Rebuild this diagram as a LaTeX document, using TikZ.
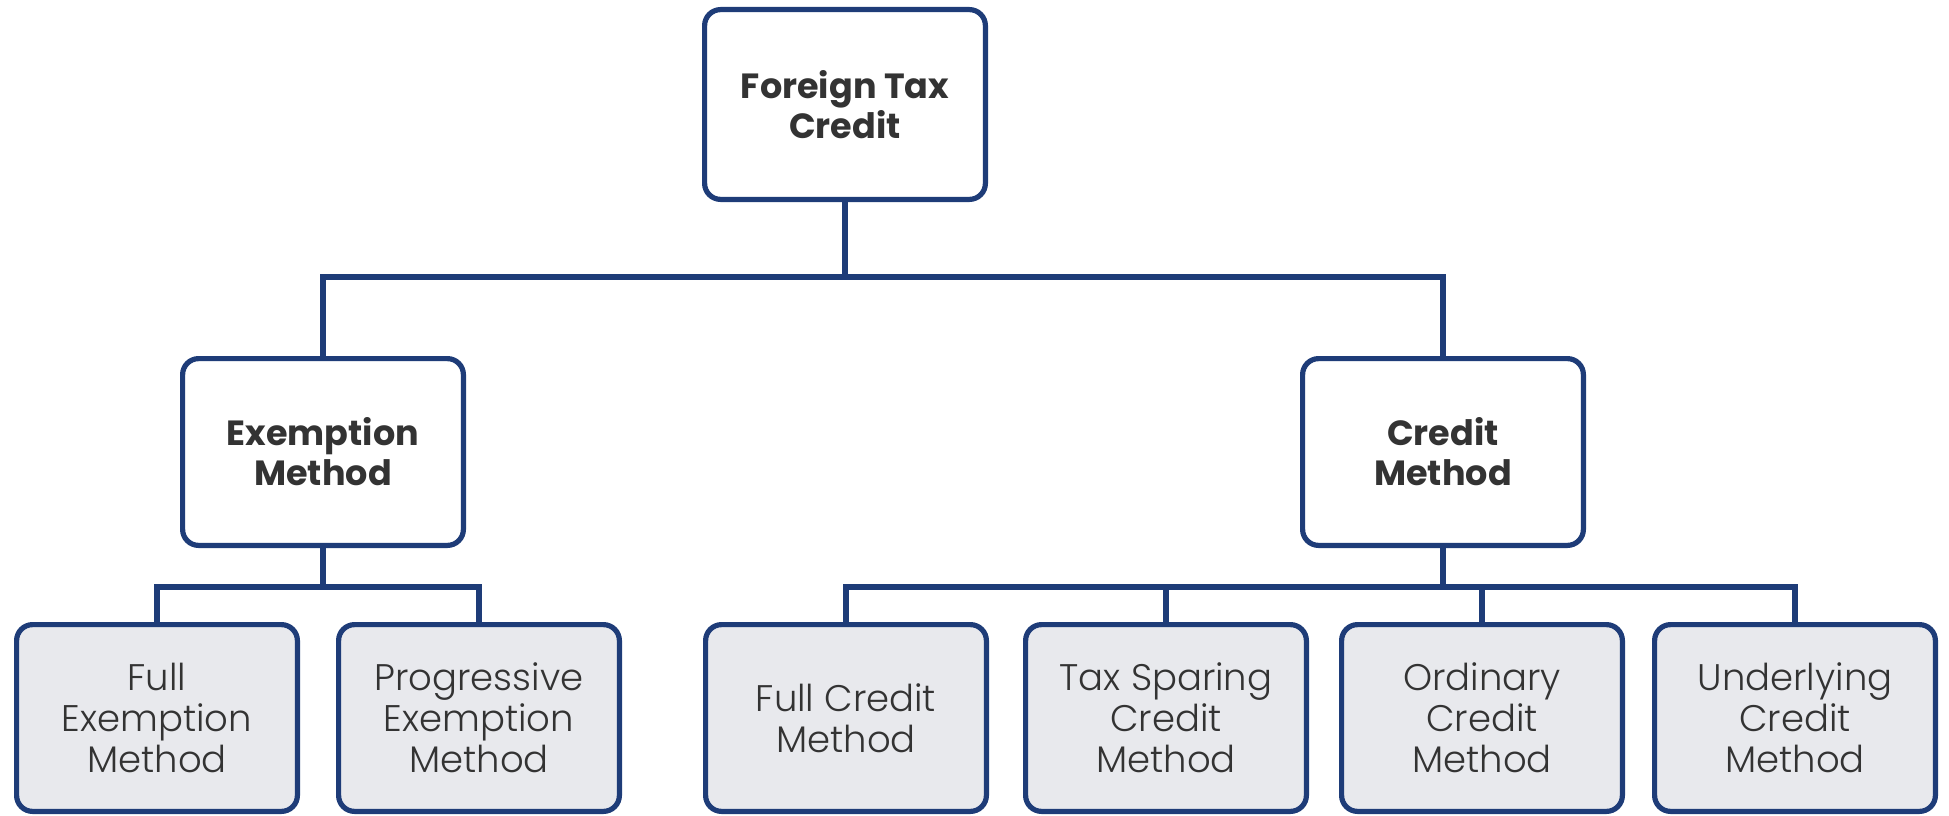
\documentclass[tikz,border=0pt]{standalone}
\usepackage{fontspec}
\setmainfont{Poppins}
\newfontfamily\lightfont{Poppins Light}
\definecolor{navy}{RGB}{30,60,120}
\definecolor{boxgray}{RGB}{232,233,237}
\definecolor{txt}{RGB}{51,51,51}
\tikzset{
  basebox/.style={draw=navy, line width=5.2pt, rounded corners=16pt,
    minimum width=280.8pt, minimum height=186.8pt, align=center,
    text=txt, inner sep=0pt},
  headbox/.style={basebox, fill=white, font=\fontsize{35}{40}\selectfont\bfseries},
  leafbox/.style={basebox, fill=boxgray, font=\lightfont\fontsize{37}{41}\selectfont},
  conn/.style={draw=navy, line width=5.2pt}
}
\begin{document}
\begin{tikzpicture}[x=1pt,y=-1pt]
\useasboundingbox (0,0) rectangle (1949,816);
\node[headbox, minimum height=189.8pt] (top) at (845,104.5) {Foreign Tax\\Credit};
\node[headbox] (ex) at (323,452) {Exemption\\Method};
\node[headbox] (cr) at (1443,452) {Credit\\Method};
\node[leafbox] (fe) at (157,718) {Full\\Exemption\\Method};
\node[leafbox] (pe) at (479,718) {Progressive\\Exemption\\Method};
\node[leafbox] (fc) at (846,718) {Full Credit\\Method};
\node[leafbox] (ts) at (1166,718) {Tax Sparing\\Credit\\Method};
\node[leafbox] (oc) at (1482,718) {Ordinary\\Credit\\Method};
\node[leafbox] (uc) at (1795,718) {Underlying\\Credit\\Method};
\coordinate (b1) at (845,277);
\coordinate (b2) at (323,587);
\coordinate (b3) at (1443,587);
\draw[conn] (top.south) -- (b1);
\draw[conn] (ex.north) |- (b1) -| (cr.north);
\draw[conn] (ex.south) -- (b2);
\draw[conn] (fe.north) |- (b2) -| (pe.north);
\draw[conn] (cr.south) -- (b3);
\draw[conn] (fc.north) |- (b3) -| (uc.north);
\draw[conn] (ts.north) -- (ts.north |- b3);
\draw[conn] (oc.north) -- (oc.north |- b3);
\end{tikzpicture}
\end{document}
